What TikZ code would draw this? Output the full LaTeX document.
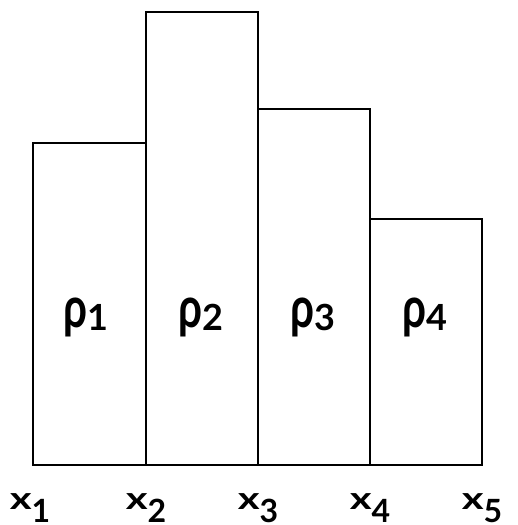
\documentclass[tikz,border=0pt]{standalone}
\usepackage{fontspec}
\setmainfont{Lato}
\begin{document}
\begin{tikzpicture}[x=1pt,y=-1pt,
  bar/.style={draw=black,line width=2pt,fill=white},
  xlab/.style={anchor=base,inner sep=0pt,font=\bfseries\fontsize{31}{31}\selectfont},
  rlab/.style={anchor=base,inner sep=0pt,font=\bfseries}]
\useasboundingbox (0,0) rectangle (517,525);
\draw[bar] (33,465) rectangle (145.5,143);
\draw[bar] (145.5,465) rectangle (257.5,12);
\draw[bar] (257.5,465) rectangle (369.5,109);
\draw[bar] (369.5,465) rectangle (482,219);
\foreach \i/\x in {1/30,2/146,3/258,4/370,5/482}{
  \node[xlab] (x\i) at (\x,509) {\scalebox{1.35}[1]{x}\raisebox{-13pt}{\fontsize{32}{32}\selectfont\i}};
}
\foreach \i/\x in {1/86,2/201,3/313,4/425}{
  \node[rlab] (r\i) at (\x,327) {\scalebox{0.78}[1.05]{\fontsize{54}{54}\selectfont ρ}\raisebox{-3pt}{\fontsize{36}{36}\selectfont \i}};
}
\end{tikzpicture}
\end{document}
